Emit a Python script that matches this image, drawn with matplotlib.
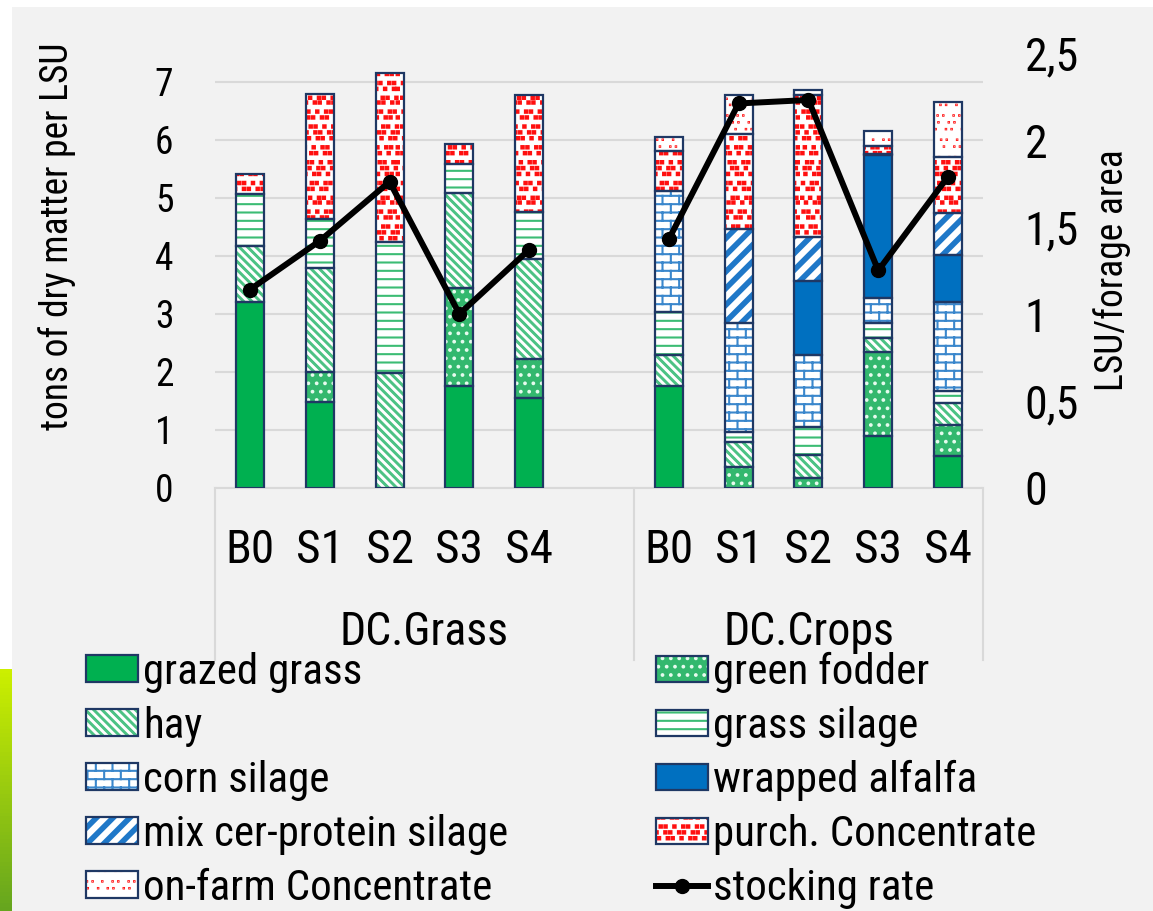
import os
import warnings
import numpy as np
import matplotlib
matplotlib.use("Agg")
import matplotlib.pyplot as plt
import matplotlib.transforms as mtransforms
from matplotlib import hatch as mhatch
from matplotlib.path import Path
from matplotlib.patches import Patch, Rectangle
from matplotlib.lines import Line2D
from matplotlib.font_manager import FontProperties, findfont

warnings.filterwarnings("ignore")

# ------------------------------------------------------------------
# data: feed ration in tons of dry matter per LSU
# first five values = DC.Grass, last five = DC.Crops
# ------------------------------------------------------------------
scenarios = ["B0", "S1", "S2", "S3", "S4"]
farm_types = ["DC.Grass", "DC.Crops"]

grazed_grass    = [3.20, 1.49, 0.00, 1.76, 1.55,  1.76, 0.00, 0.00, 0.89, 0.55]
green_fodder    = [0.00, 0.51, 0.00, 1.68, 0.68,  0.00, 0.37, 0.17, 1.46, 0.54]
hay             = [0.98, 1.80, 1.99, 1.64, 1.71,  0.53, 0.43, 0.40, 0.23, 0.37]
grass_silage    = [0.89, 0.84, 2.25, 0.50, 0.82,  0.75, 0.17, 0.49, 0.26, 0.21]
corn_silage     = [0.00, 0.00, 0.00, 0.00, 0.00,  2.08, 1.88, 1.23, 0.44, 1.54]
wrapped_alfalfa = [0.00, 0.00, 0.00, 0.00, 0.00,  0.00, 0.00, 1.28, 2.46, 0.81]
mix_silage      = [0.00, 0.00, 0.00, 0.00, 0.00,  0.00, 1.61, 0.76, 0.02, 0.72]
purch_conc      = [0.35, 2.16, 2.92, 0.35, 2.02,  0.69, 1.65, 2.45, 0.14, 0.97]
onfarm_conc     = [0.00, 0.00, 0.00, 0.00, 0.00,  0.24, 0.67, 0.08, 0.25, 0.95]

# LSU per ha of forage area (right axis)
stocking_rate   = [1.14, 1.42, 1.76, 1.00, 1.37,  1.43, 2.21, 2.23, 1.25, 1.79]

left_ticks = [0, 1, 2, 3, 4, 5, 6, 7]
right_ticks = [0, 0.5, 1, 1.5, 2, 2.5]
right_tick_labels = ["0", "0,5", "1", "1,5", "2", "2,5"]


# ------------------------------------------------------------------
# extra hatch patterns: bricks, thick stripes, scattered squares
# ------------------------------------------------------------------
class BrickHatch(mhatch.HatchPatternBase):
    rows = 12
    per_row = 6

    def __init__(self, hatch, density):
        self.segs = self._segments() if "b" in hatch else []
        self.num_vertices = len(self.segs) * 2

    def _segments(self):
        h = 1.0 / self.rows
        segs = []
        for r in range(self.rows):
            y0 = (r + 0.5) * h
            segs.append(((0.0, y0), (1.0, y0)))
            shift = 0.5 if r % 2 else 0.0
            for k in range(self.per_row):
                x = (k + 0.25 + shift) / self.per_row
                y1 = y0 + h
                if y1 > 1.0:
                    segs.append(((x, y0), (x, 1.0)))
                    segs.append(((x, 0.0), (x, y1 - 1.0)))
                else:
                    segs.append(((x, y0), (x, y1)))
        return segs

    def set_vertices_and_codes(self, vertices, codes):
        vertices[:] = np.array(self.segs).reshape(-1, 2)
        codes[0::2] = Path.MOVETO
        codes[1::2] = Path.LINETO


class _Stripes(mhatch.HatchPatternBase):
    # filled diagonal bands; sign +1 rises to the right, -1 falls
    char = ""
    n = 6
    width = 0.05
    sign = 1

    def __init__(self, hatch, density):
        self.on = self.char in hatch
        self.ks = list(range(-self.n - 2, 2 * self.n + 2))
        self.num_vertices = len(self.ks) * 5 if self.on else 0

    def set_vertices_and_codes(self, vertices, codes):
        out = []
        s = self.sign
        for k in self.ks:
            c = k / self.n
            x0, x1 = -0.1, 1.1
            y0 = (s * x0 if s > 0 else 1 - x0) + c - (0 if s > 0 else 1)
            y1 = (s * x1 if s > 0 else 1 - x1) + c - (0 if s > 0 else 1)
            out += [(x0, y0), (x1, y1), (x1, y1 + self.width),
                    (x0, y0 + self.width), (x0, y0)]
        vertices[:] = out
        codes[:] = np.tile([Path.MOVETO, Path.LINETO, Path.LINETO,
                            Path.LINETO, Path.CLOSEPOLY], len(self.ks))


class WideStripes(_Stripes):
    char = "w"
    n = 6
    width = 0.05
    sign = 1


class HayStripes(_Stripes):
    char = "h"
    n = 12
    width = 0.012
    sign = -1


class _Squares(mhatch.HatchPatternBase):
    char = ""
    n = 10
    size = 0.03

    def __init__(self, hatch, density):
        self.on = self.char in hatch
        self.num_vertices = self.n * self.n * 5 if self.on else 0

    def set_vertices_and_codes(self, vertices, codes):
        step = 1.0 / self.n
        s = self.size
        out = []
        for i in range(self.n):
            for j in range(self.n):
                dx = (((i * 5 + j * 3) % 7) - 3) * 0.08 * step
                dy = (((i * 3 + j * 5) % 5) - 2) * 0.09 * step
                x = (j + 0.25 + 0.5 * (i % 2)) * step + dx
                y = (i + 0.3) * step + dy
                x = min(max(x, 0.01), 1.0 - s - 0.01)
                y = min(max(y, 0.01), 1.0 - s - 0.01)
                out += [(x, y), (x + s, y), (x + s, y + s), (x, y + s), (x, y)]
        vertices[:] = out
        codes[:] = np.tile([Path.MOVETO, Path.LINETO, Path.LINETO,
                            Path.LINETO, Path.CLOSEPOLY], self.n * self.n)


class BigSquares(_Squares):
    char = "q"
    n = 14
    size = 0.024


class SmallSquares(_Squares):
    char = "p"
    n = 12
    size = 0.004


mhatch._hatch_types.extend([BrickHatch, WideStripes, HayStripes,
                            BigSquares, SmallSquares])


# ------------------------------------------------------------------
# fonts: a narrow sans if one is installed, else Liberation Sans
# ------------------------------------------------------------------
def pick_font():
    for name, stretch in [("Liberation Sans Narrow", "normal"),
                          ("Arial Narrow", "normal"),
                          ("Roboto Condensed", "normal"),
                          ("Roboto", "condensed"),
                          ("Open Sans", "condensed")]:
        try:
            path = findfont(FontProperties(family=name, stretch=stretch),
                            fallback_to_default=False)
        except Exception:
            continue
        base = os.path.basename(path).lower()
        if "narrow" in base or "condensed" in base:
            return name, stretch, True
    return "Liberation Sans", "normal", False


FONT, STRETCH, NARROW = pick_font()
plt.rcParams["font.family"] = [FONT, "DejaVu Sans"]
plt.rcParams["font.stretch"] = STRETCH
plt.rcParams["hatch.linewidth"] = 1.5

if NARROW:
    FS = dict(lt=27, rt=33, cat=34, grp=33, ylab=27, rylab=27, leg=31)
else:
    FS = dict(lt=26, rt=30, cat=30, grp=30, ylab=24, rylab=26, leg=29)

# ------------------------------------------------------------------
# styles
# ------------------------------------------------------------------
NAVY = "#1f3864"
GREEN = "#00b050"
LINE_GREEN = "#3cbc74"
BLUE = "#0070c0"
BRICK_BLUE = "#3a87cc"
RED = "#ff1010"
GRID = "#d9d9d9"
BG = "#f2f2f2"

# label, values, face colour, hatch, hatch colour
layers = [
    ("grazed grass", grazed_grass, GREEN, None, GREEN),
    ("green fodder", green_fodder, "#33b86e", "..", "#e6fbee"),
    ("hay", hay, "white", "h", "#4cc284"),
    ("grass silage", grass_silage, "white", "--", LINE_GREEN),
    ("corn silage", corn_silage, "white", "b", BRICK_BLUE),
    ("wrapped alfalfa", wrapped_alfalfa, BLUE, None, BLUE),
    ("mix cer-protein silage", mix_silage, "white", "w", "#1f78c8"),
    ("purch. Concentrate", purch_conc, "white", "q", RED),
    ("on-farm Concentrate", onfarm_conc, "white", "p", RED),
]

BAR_W = 0.4
xpos = np.r_[np.arange(5), np.arange(6, 11)]

W, H = 1153, 911
fig = plt.figure(figsize=(W / 100, H / 100), dpi=100, facecolor=BG)

# white frame strips and the green band on the lower left edge
fig.patches.append(Rectangle((0, 1 - 7 / H), 1, 7 / H, transform=fig.transFigure,
                             facecolor="white", edgecolor="none", zorder=-5))
fig.patches.append(Rectangle((0, (H - 669) / H), 12 / W, 662 / H, transform=fig.transFigure,
                             facecolor="white", edgecolor="none", zorder=-5))
band = fig.add_axes([0, 0, 12 / W, (H - 669) / H])
grad = np.linspace(0, 1, 64)[:, None, None]
top_c = np.array([0.80, 0.94, 0.00])
bot_c = np.array([0.40, 0.65, 0.12])
band.imshow(top_c * (1 - grad) + bot_c * grad, aspect="auto", extent=[0, 1, 0, 1])
band.set_axis_off()

ax = fig.add_axes([215 / W, 1 - 488 / H, 768 / W, 435 / H])
ax.patch.set_visible(False)
ax.set_xlim(-0.5, 10.5)
ax.set_ylim(0, 7.5)
ax.set_axisbelow(True)
ax.yaxis.grid(True, color=GRID, linewidth=1.5)
ax.set_yticks(left_ticks)
ax.tick_params(axis="y", length=0, pad=30, labelsize=FS["lt"])
ax.set_xticks([])
for side in ["left", "right", "top"]:
    ax.spines[side].set_visible(False)
ax.spines["bottom"].set_color(GRID)
ax.spines["bottom"].set_linewidth(1.5)

bottom = np.zeros(len(xpos))
legend_handles = {}
for label, values, face, hatch, hcolor in layers:
    vals = np.asarray(values, dtype=float)
    m = vals > 0
    ax.bar(xpos[m], vals[m], BAR_W, bottom=bottom[m], color=face,
           hatch=hatch, edgecolor=hcolor, linewidth=0, zorder=2)
    ax.bar(xpos[m], vals[m], BAR_W, bottom=bottom[m], fill=False,
           edgecolor=NAVY, linewidth=1.6, zorder=3)
    legend_handles[label] = (Patch(facecolor=face, hatch=hatch, edgecolor=hcolor, linewidth=0),
                             Patch(fill=False, edgecolor=NAVY, linewidth=1.6))
    bottom = bottom + vals

# stocking rate on the secondary axis, one line per farm type
ax2 = ax.twinx()
ax2.set_ylim(0, 2.5)
ax2.set_yticks(right_ticks)
ax2.set_yticklabels(right_tick_labels)
ax2.tick_params(axis="y", length=0, pad=30, labelsize=FS["rt"])
for s in ax2.spines.values():
    s.set_visible(False)
sr = np.asarray(stocking_rate)
for g in range(2):
    sl = slice(5 * g, 5 * g + 5)
    ax2.plot(xpos[sl], sr[sl], color="black", linewidth=4.3, marker="o",
             markersize=10, zorder=5)
legend_handles["stocking rate"] = Line2D([], [], color="black", linewidth=4.3,
                                         marker="o", markersize=10)

# two-level category axis
blend = mtransforms.blended_transform_factory(ax.transData, ax.transAxes)
for i, x in enumerate(xpos):
    ax.text(x, -0.172, scenarios[i % 5], transform=blend, ha="center",
            va="baseline", fontsize=FS["cat"])
for xs in [-0.5, 5.5, 10.5]:
    ax.plot([xs, xs], [0, -0.395], transform=blend, color=GRID, linewidth=1.5,
            clip_on=False)
for name, xc in zip(farm_types, [2.5, 8.0]):
    ax.text(xc, -0.36, name, transform=blend, ha="center", va="baseline",
            fontsize=FS["grp"])

fig.text(57 / W, 1 - 236 / H, "tons of dry matter per LSU", rotation=90,
         ha="center", va="center", fontsize=FS["ylab"])
fig.text(1112 / W, 1 - 270 / H, "LSU/forage area", rotation=90,
         ha="center", va="center", fontsize=FS["rylab"])

# legend in two columns, Excel order read row by row
col1 = ["grazed grass", "hay", "corn silage", "mix cer-protein silage",
        "on-farm Concentrate"]
col2 = ["green fodder", "grass silage", "wrapped alfalfa", "purch. Concentrate",
        "stocking rate"]
lfs = FS["leg"] * 100 / 72
for names, x0 in [(col1, 86), (col2, 656)]:
    fig.legend([legend_handles[n] for n in names], names, loc="upper left",
               bbox_to_anchor=(x0 / W, 1 - 652 / H), frameon=False,
               fontsize=FS["leg"], borderpad=0, borderaxespad=0,
               handlelength=52 / lfs, handleheight=25 / lfs,
               handletextpad=5 / lfs, labelspacing=(56 - 1.0 * lfs) / lfs)

fig.savefig("out.png", dpi=100, facecolor=BG)
